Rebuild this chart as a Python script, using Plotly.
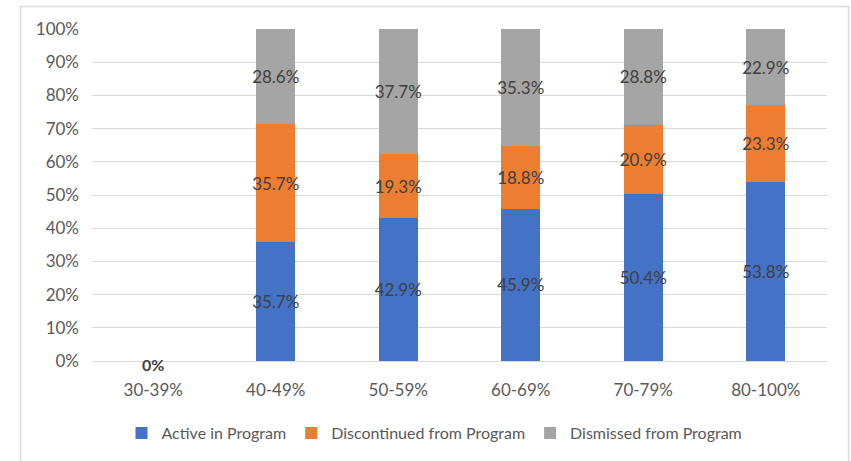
import plotly.graph_objects as go

categories = ["30-39%", "40-49%", "50-59%", "60-69%", "70-79%", "80-100%"]
active = [0, 35.7, 42.9, 45.9, 50.4, 53.8]
discontinued = [0, 35.7, 19.3, 18.8, 20.9, 23.3]
dismissed = [0, 28.6, 37.7, 35.3, 28.8, 22.9]
series_names = ["Active in Program", "Discontinued from Program", "Dismissed from Program"]
series_colors = ["#4472C4", "#ED7D31", "#A5A5A5"]

FONT = "Lato"
W, H = 851, 461
L, R, T, B = 92, 24, 29, 99
PW, PH = W - L - R, H - T - B


def px_x(p):
    return (p - L) / PW


def px_y(p):
    return (H - B - p) / PH


fig = go.Figure()
for name, vals, col in zip(series_names, [active, discontinued, dismissed], series_colors):
    fig.add_trace(go.Bar(
        x=categories,
        y=vals,
        name=name,
        marker=dict(color=col, line=dict(width=0)),
        text=[f"{v:.1f}%" if v > 0 else "" for v in vals],
        textposition="inside",
        insidetextanchor="middle",
        textangle=0,
        constraintext="none",
        textfont=dict(family=FONT, size=17, color="#404040"),
        hoverinfo="skip",
    ))

# zero-value label for the first category
fig.add_annotation(
    x=categories[0], y=active[0], text=f"<b>{active[0]:.0f}%</b>",
    showarrow=False, yanchor="middle", yshift=-3,
    font=dict(family=FONT, size=16, color="#404040"),
)

# chart-area border
fig.add_shape(
    type="rect", xref="paper", yref="paper",
    x0=px_x(20.5), x1=px_x(848.5), y0=px_y(475), y1=px_y(6.5),
    line=dict(color="#D9D9D9", width=1.5), fillcolor="rgba(0,0,0,0)", layer="below",
)

fig.update_layout(
    width=W, height=H,
    margin=dict(l=L, r=R, t=T, b=B),
    paper_bgcolor="white", plot_bgcolor="white",
    barmode="stack", barnorm="percent", bargap=0.68,
    font=dict(family=FONT, size=17, color="#595959"),
    showlegend=True,
    legend=dict(
        orientation="h", x=px_x(434.5), xanchor="center",
        y=px_y(433), yanchor="middle",
        font=dict(family=FONT, size=16, color="#595959"),
        itemwidth=30, traceorder="normal",
    ),
)
fig.update_xaxes(
    showgrid=False, showline=False, zeroline=False,
    ticks="", ticklabelstandoff=17,
    tickfont=dict(family=FONT, size=17, color="#595959"),
)
fig.update_yaxes(
    range=[0, 100], dtick=10, ticksuffix="%",
    showgrid=True, gridcolor="#D9D9D9", gridwidth=1.3,
    zeroline=True, zerolinecolor="#D9D9D9", zerolinewidth=1.3,
    showline=False, ticks="", ticklabelstandoff=12,
    tickfont=dict(family=FONT, size=17, color="#595959"),
)

fig.write_html("out.html")
